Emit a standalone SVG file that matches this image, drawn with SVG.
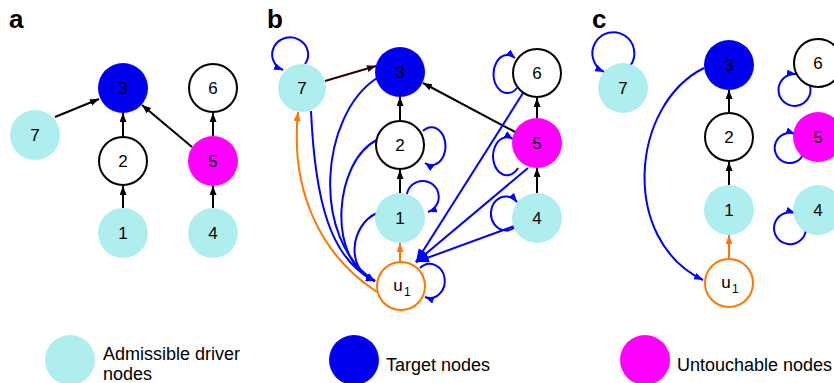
<svg xmlns="http://www.w3.org/2000/svg" width="834" height="383" viewBox="0 0 834 383">
<style>
text{font-family:"Liberation Sans",Arial,sans-serif;fill:#000}
.lbl{font-size:17px;text-anchor:middle}
.sub{font-size:12px}
.pl{font-size:26px;font-weight:bold}
.lg{font-size:18px}
.cy{fill:#afeeee}
.tg{fill:#0000ee}
.un{fill:#ff00ff}
.ring{fill:#fff;stroke:#000;stroke-width:2}
.uring{fill:#fff;stroke:#ff7700;stroke-width:2}
.k{stroke:#000;stroke-width:2;fill:none;marker-end:url(#ak)}
.b{stroke:#0000ff;stroke-width:2;fill:none;marker-end:url(#ab)}
.bb{stroke:#0000ff;stroke-width:2;fill:none;marker-end:url(#abb)}
.o{stroke:#ff7700;stroke-width:2;fill:none;marker-end:url(#ao)}
.d{stroke:#330000;stroke-width:2;fill:none;marker-end:url(#ad)}
</style>
<defs>
<marker id="ak" markerUnits="userSpaceOnUse" markerWidth="10" markerHeight="8" refX="9" refY="3.5" orient="auto"><path d="M0,0 L9,3.5 L0,7 z" fill="#000"/></marker>
<marker id="ab" markerUnits="userSpaceOnUse" markerWidth="10" markerHeight="8" refX="9" refY="3.5" orient="auto"><path d="M0,0 L9,3.5 L0,7 z" fill="#0000ff"/></marker>
<marker id="abb" markerUnits="userSpaceOnUse" markerWidth="14" markerHeight="12" refX="13" refY="5" orient="auto"><path d="M0,0 L13,5 L0,10 z" fill="#0000ff"/></marker>
<marker id="ao" markerUnits="userSpaceOnUse" markerWidth="10" markerHeight="8" refX="9" refY="3.5" orient="auto"><path d="M0,0 L9,3.5 L0,7 z" fill="#ff7700"/></marker>
<marker id="ad" markerUnits="userSpaceOnUse" markerWidth="10" markerHeight="8" refX="9" refY="3.5" orient="auto"><path d="M0,0 L9,3.5 L0,7 z" fill="#330000"/></marker>
</defs>

<text class="pl" x="9" y="28">a</text>
<text class="pl" x="267" y="28">b</text>
<text class="pl" x="592" y="28">c</text>

<g id="connectors">
<!-- panel a -->
<path class="k" d="M55,117 L99,99"/>
<path class="k" d="M123,136 L123,113"/>
<path class="k" d="M123,208 L123,186"/>
<path class="k" d="M192,147 L142,105"/>
<path class="k" d="M213,136 L213,113"/>
<path class="k" d="M213,208 L213,186"/>
<!-- panel b -->
<path class="d" d="M325,81 L376,66"/>
<path class="k" d="M400,120 L400,97"/>
<path class="k" d="M400,193 L400,170"/>
<path class="k" d="M517,133 L423,83"/>
<path class="k" d="M537,118 L537,98"/>
<path class="k" d="M537,193 L537,168"/>
<path class="o" d="M400,261 L400,243"/>
<path class="o" d="M377,292 C320,255 290,190 298,112"/>
<path class="b" d="M311,111 C315,200 330,260 375,281"/>
<path class="b" d="M377,78 C320,115 310,240 375,281"/>
<path class="b" d="M377,140 C335,160 325,260 375,281"/>
<path class="b" d="M377,213 C350,225 345,270 375,281"/>
<path class="bb" d="M523,93 L416,262"/>
<path class="bb" d="M528,168 L416,262"/>
<path class="bb" d="M517,225 L416,262"/>
<path class="b" d="M305,64 A18,17 0 1 0 283,70"/>
<path class="b" d="M517,88 A14,19 0 1 1 515,58"/>
<path class="b" d="M518,168 A14,19 0 1 1 513,139"/>
<path class="b" d="M515,227 A15,17 0 1 1 517,202"/>
<path class="b" d="M423,131 A14,19 0 1 1 425,163"/>
<path class="b" d="M407,194 A16,16 0 1 1 428,212"/>
<path class="b" d="M420,268 A15,17 0 1 1 425,297"/>
<!-- panel c -->
<path class="b" d="M704,68 C630,105 620,240 703,280"/>
<path class="k" d="M729,112 L729,90"/>
<path class="k" d="M729,185 L729,162"/>
<path class="o" d="M729,259 L729,235"/>
<path class="b" d="M630,66 A21,21 0 1 0 604,72"/>
<path class="b" d="M810,86 A16,16 0 1 1 796,74"/>
<path class="b" d="M803,155 A15,15 0 1 1 795,134"/>
<path class="b" d="M806,229 A16,16 0 1 1 795,213"/>
</g>

<!-- panel a nodes -->
<g id="a3"><circle class="tg" cx="123" cy="88" r="25"/><text class="lbl" x="123" y="94">3</text></g>
<g id="a6"><circle class="ring" cx="213" cy="88" r="24"/><text class="lbl" x="213" y="94">6</text></g>
<g id="a7"><circle class="cy" cx="35" cy="135" r="25"/><text class="lbl" x="35" y="141">7</text></g>
<g id="a2"><circle class="ring" cx="123" cy="161" r="24"/><text class="lbl" x="123" y="167">2</text></g>
<g id="a5"><circle class="un" cx="213" cy="161" r="25"/><text class="lbl" x="213" y="167">5</text></g>
<g id="a1"><circle class="cy" cx="123" cy="233" r="25"/><text class="lbl" x="123" y="239">1</text></g>
<g id="a4"><circle class="cy" cx="213" cy="233" r="25"/><text class="lbl" x="213" y="239">4</text></g>

<!-- panel b nodes -->
<g id="b7"><circle class="cy" cx="302" cy="88" r="24"/><text class="lbl" x="302" y="94">7</text></g>
<g id="b3"><circle class="tg" cx="400" cy="72" r="25"/><text class="lbl" x="400" y="78">3</text></g>
<g id="b6"><circle class="ring" cx="537" cy="73" r="24"/><text class="lbl" x="537" y="79">6</text></g>
<g id="b2"><circle class="ring" cx="400" cy="145" r="24"/><text class="lbl" x="400" y="151">2</text></g>
<g id="b5"><circle class="un" cx="537" cy="143" r="25"/><text class="lbl" x="537" y="149">5</text></g>
<g id="b1"><circle class="cy" cx="400" cy="218" r="25"/><text class="lbl" x="400" y="224">1</text></g>
<g id="b4"><circle class="cy" cx="537" cy="218" r="25"/><text class="lbl" x="537" y="224">4</text></g>
<g id="bu1"><circle class="uring" cx="401" cy="286" r="24"/><text x="398" y="291" class="lbl">u</text><text class="sub" x="404" y="296">1</text></g>

<!-- panel c nodes -->
<g id="c7"><circle class="cy" cx="623" cy="88" r="25"/><text class="lbl" x="623" y="94">7</text></g>
<g id="c3"><circle class="tg" cx="729" cy="65" r="25"/><text class="lbl" x="729" y="71">3</text></g>
<g id="c6"><circle class="ring" cx="818" cy="63" r="24"/><text class="lbl" x="818" y="69">6</text></g>
<g id="c2"><circle class="ring" cx="729" cy="137" r="24"/><text class="lbl" x="729" y="143">2</text></g>
<g id="c5"><circle class="un" cx="818" cy="137" r="25"/><text class="lbl" x="818" y="143">5</text></g>
<g id="c1"><circle class="cy" cx="729" cy="210" r="25"/><text class="lbl" x="729" y="216">1</text></g>
<g id="c4"><circle class="cy" cx="818" cy="210" r="25"/><text class="lbl" x="818" y="216">4</text></g>
<g id="cu1"><circle class="uring" cx="729" cy="283" r="24"/><text x="726" y="288" class="lbl">u</text><text class="sub" x="732" y="293">1</text></g>

<!-- legend -->
<g id="leg1"><circle class="cy" cx="70" cy="360" r="25"/><text class="lg" x="103" y="360">Admissible driver</text><text class="lg" x="103" y="380">nodes</text></g>
<g id="leg2"><circle class="tg" cx="354" cy="360" r="25"/><text class="lg" x="386" y="371">Target nodes</text></g>
<g id="leg3"><circle class="un" cx="645" cy="360" r="25"/><text class="lg" x="677" y="371">Untouchable nodes</text></g>
</svg>
